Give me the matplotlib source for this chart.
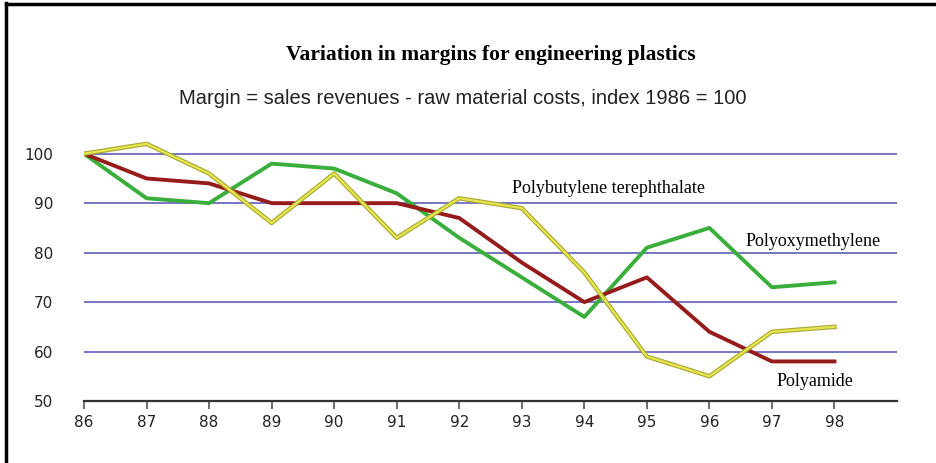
import matplotlib
matplotlib.use("Agg")
import matplotlib.pyplot as plt
from matplotlib.lines import Line2D
import matplotlib.patheffects as pe

# Data (index 1986 = 100)
years = [86, 87, 88, 89, 90, 91, 92, 93, 94, 95, 96, 97, 98]
polyoxymethylene = [100, 91, 90, 98, 97, 92, 83, 75, 67, 81, 85, 73, 74]
polyamide = [100, 95, 94, 90, 90, 90, 87, 78, 70, 75, 64, 58, 58]
pbt = [100, 102, 96, 86, 96, 83, 91, 89, 76, 59, 55, 64, 65]
y_ticks = [50, 60, 70, 80, 90, 100]

fig = plt.figure(figsize=(9.36, 4.63), dpi=100)
ax = fig.add_axes([84 / 936, 62 / 463, (897 - 84) / 936, (401 - 129) / 463])

# horizontal grid lines
for v in y_ticks[1:]:
    ax.axhline(v, color="#6b6bbd", lw=1.3, zorder=1)

ax.plot(years, polyoxymethylene, color="#3aae3a", lw=2.8, zorder=3)
ax.plot(years, polyamide, color="#961c1c", lw=2.8, zorder=4)
# yellow line drawn with an olive outline
ax.plot(years, pbt, color="#e6e650", lw=1.6, zorder=5,
        path_effects=[pe.Stroke(linewidth=3.2, foreground="#a6a632"), pe.Normal()])

ax.set_xlim(86, 99)
ax.set_ylim(50, 105)
ax.set_xticks(years)
ax.set_xticklabels([str(y) for y in years])
ax.set_yticks(y_ticks)

for s in ["top", "right", "left"]:
    ax.spines[s].set_visible(False)
ax.spines["bottom"].set_color("#333333")
ax.spines["bottom"].set_linewidth(1.6)
ax.tick_params(axis="x", direction="out", length=6, width=1.2, color="#555555",
               labelsize=11, pad=4, labelcolor="#222222")
ax.tick_params(axis="y", length=0, labelsize=11, pad=22, labelcolor="#222222")
for lab in ax.get_xticklabels() + ax.get_yticklabels():
    lab.set_family("DejaVu Sans")

# series labels
ax.text(92.85, 92.9, "Polybutylene terephthalate", family="Liberation Serif", fontsize=13,
        va="center", ha="left")
ax.text(96.58, 82.3, "Polyoxymethylene", family="Liberation Serif", fontsize=13,
        va="center", ha="left")
ax.text(97.07, 54.0, "Polyamide", family="Liberation Serif", fontsize=13,
        va="center", ha="left")

# titles
fig.text(491 / 936, 1 - 55 / 463, "Variation in margins for engineering plastics",
         family="Liberation Serif", fontweight="bold", fontsize=15.5,
         ha="center", va="center")
fig.text(463 / 936, 1 - 98 / 463, "Margin = sales revenues - raw material costs, index 1986 = 100",
         family="Liberation Sans", fontsize=14.5, ha="center", va="center", color="#222222")

# black frame lines (left and top)
fig.add_artist(Line2D([6 / 936, 6 / 936], [0, 1 - 3 / 463], color="black", lw=2.5))
fig.add_artist(Line2D([6 / 936, 1], [1 - 4 / 463, 1 - 4 / 463], color="black", lw=2.5))

fig.savefig("out.png", dpi=100)
